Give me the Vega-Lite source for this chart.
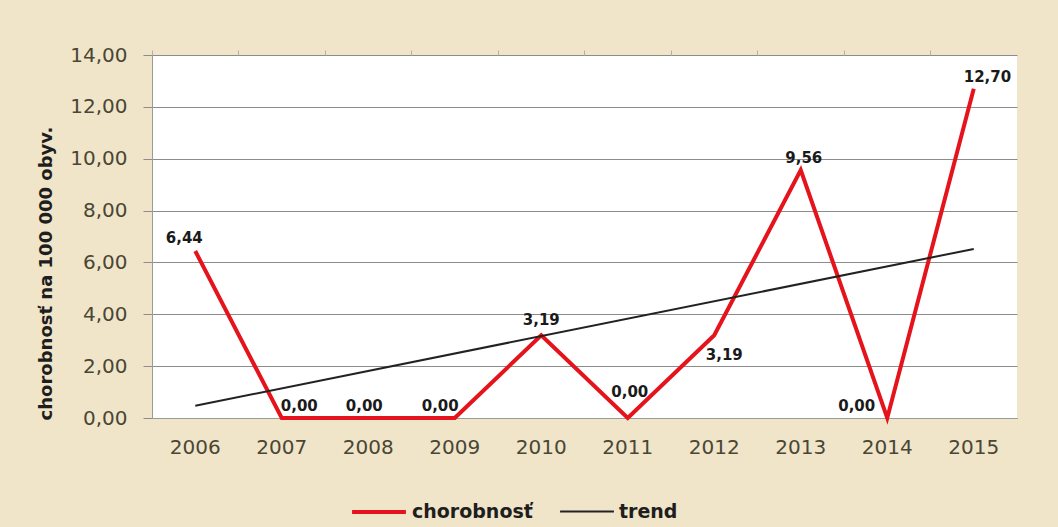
{
  "$schema": "https://vega.github.io/schema/vega-lite/v6.json",
  "width": 865,
  "height": 363,
  "autosize": {"type": "none"},
  "padding": {"left": 152, "top": 55, "right": 41, "bottom": 109},
  "background": "#F0E5C8",
  "config": {
    "locale": {"number": {"decimal": ",", "thousands": " ", "grouping": [3], "currency": ["", " €"]}},
    "view": {"fill": "white", "stroke": null},
    "font": "DejaVu Sans"
  },
  "data": {
    "values": [
      {"year": "2006", "series": "chorobnosť", "value": 6.44},
      {"year": "2007", "series": "chorobnosť", "value": 0.0},
      {"year": "2008", "series": "chorobnosť", "value": 0.0},
      {"year": "2009", "series": "chorobnosť", "value": 0.0},
      {"year": "2010", "series": "chorobnosť", "value": 3.19},
      {"year": "2011", "series": "chorobnosť", "value": 0.0},
      {"year": "2012", "series": "chorobnosť", "value": 3.19},
      {"year": "2013", "series": "chorobnosť", "value": 9.56},
      {"year": "2014", "series": "chorobnosť", "value": 0.0},
      {"year": "2015", "series": "chorobnosť", "value": 12.7},
      {"year": "2006", "series": "trend", "value": 0.47},
      {"year": "2015", "series": "trend", "value": 6.52}
    ]
  },
  "layer": [
    {
      "mark": {"type": "line", "strokeJoin": "miter"},
      "encoding": {
        "x": {
          "field": "year", "type": "ordinal",
          "scale": {"type": "band", "paddingInner": 0, "paddingOuter": 0},
          "axis": {"title": null, "labelAngle": 0, "ticks": false, "labelPadding": 19, "labelFontSize": 20, "labelColor": "#4a4636", "domainColor": "#9a9a9a", "domainWidth": 1, "grid": false}
        },
        "y": {
          "field": "value", "type": "quantitative",
          "scale": {"domain": [0, 14]},
          "axis": {
            "title": "chorobnosť na 100 000 obyv.", "titleFontSize": 18, "titleFontWeight": "bold", "titleColor": "#1e1e1e", "titlePadding": 14, "titleY": 218,
            "values": [0, 2, 4, 6, 8, 10, 12, 14], "format": ".2f",
            "labelFontSize": 20, "labelColor": "#4a4636", "labelPadding": 16,
            "tickSize": 9, "tickColor": "#8c8c8c", "domainColor": "#9a9a9a",
            "grid": true, "gridColor": "#8c8c8c", "gridWidth": 1
          }
        },
        "color": {
          "field": "series", "type": "nominal",
          "scale": {"domain": ["chorobnosť", "trend"], "range": ["#E5131B", "#222222"]},
          "legend": {"title": null, "orient": "none", "legendX": 198, "legendY": 428, "direction": "horizontal", "symbolType": "stroke", "symbolSize": 2900, "labelFontSize": 19, "labelFontWeight": "bold", "labelColor": "#1e1e1e", "columnPadding": 23, "labelOffset": 4}
        },
        "strokeWidth": {
          "field": "series", "type": "nominal",
          "scale": {"domain": ["chorobnosť", "trend"], "range": [4, 2]},
          "legend": {"title": null, "orient": "none", "legendX": 198, "legendY": 428, "direction": "horizontal", "symbolType": "stroke", "symbolSize": 2900, "labelFontSize": 19, "labelFontWeight": "bold", "labelColor": "#1e1e1e", "columnPadding": 23, "labelOffset": 4}
        }
      }
    },
    {
      "transform": [{"filter": {"field": "year", "oneOf": ["2010"]}}, {"filter": "datum.series === 'chorobnosť'"}],
      "mark": {"type": "text", "fontSize": 15, "fontWeight": "bold", "color": "#1a1a1a", "baseline": "bottom", "dy": -7},
      "encoding": {
        "x": {"field": "year", "type": "ordinal", "axis": {"bandPosition": 0, "labels": false, "ticks": true, "tickSize": 5, "tickColor": "#b0b0b0", "domain": false, "grid": false, "title": null}},
        "y": {"field": "value", "type": "quantitative"},
        "text": {"field": "value", "type": "quantitative", "format": ".2f"}
      }
    },
    {
      "transform": [{"filter": {"field": "year", "oneOf": ["2006"]}}, {"filter": "datum.series === 'chorobnosť'"}],
      "mark": {"type": "text", "fontSize": 15, "fontWeight": "bold", "color": "#1a1a1a", "baseline": "bottom", "dx": -11, "dy": -5},
      "encoding": {
        "x": {"field": "year", "type": "ordinal", "axis": null},
        "y": {"field": "value", "type": "quantitative"},
        "text": {"field": "value", "type": "quantitative", "format": ".2f"}
      }
    },
    {
      "transform": [{"filter": {"field": "year", "oneOf": ["2011"]}}, {"filter": "datum.series === 'chorobnosť'"}],
      "mark": {"type": "text", "fontSize": 15, "fontWeight": "bold", "color": "#1a1a1a", "baseline": "bottom", "dx": 2, "dy": -18},
      "encoding": {
        "x": {"field": "year", "type": "ordinal", "axis": null},
        "y": {"field": "value", "type": "quantitative"},
        "text": {"field": "value", "type": "quantitative", "format": ".2f"}
      }
    },
    {
      "transform": [{"filter": {"field": "year", "oneOf": ["2013"]}}, {"filter": "datum.series === 'chorobnosť'"}],
      "mark": {"type": "text", "fontSize": 15, "fontWeight": "bold", "color": "#1a1a1a", "baseline": "bottom", "dx": 3, "dy": -4},
      "encoding": {
        "x": {"field": "year", "type": "ordinal", "axis": null},
        "y": {"field": "value", "type": "quantitative"},
        "text": {"field": "value", "type": "quantitative", "format": ".2f"}
      }
    },
    {
      "transform": [{"filter": {"field": "year", "oneOf": ["2007"]}}, {"filter": "datum.series === 'chorobnosť'"}],
      "mark": {"type": "text", "fontSize": 15, "fontWeight": "bold", "color": "#1a1a1a", "baseline": "bottom", "align": "left", "dx": -1, "dy": -4},
      "encoding": {
        "x": {"field": "year", "type": "ordinal", "axis": null},
        "y": {"field": "value", "type": "quantitative"},
        "text": {"field": "value", "type": "quantitative", "format": ".2f"}
      }
    },
    {
      "transform": [{"filter": {"field": "year", "oneOf": ["2008"]}}, {"filter": "datum.series === 'chorobnosť'"}],
      "mark": {"type": "text", "fontSize": 15, "fontWeight": "bold", "color": "#1a1a1a", "baseline": "bottom", "dx": -4, "dy": -4},
      "encoding": {
        "x": {"field": "year", "type": "ordinal", "axis": null},
        "y": {"field": "value", "type": "quantitative"},
        "text": {"field": "value", "type": "quantitative", "format": ".2f"}
      }
    },
    {
      "transform": [{"filter": {"field": "year", "oneOf": ["2009"]}}, {"filter": "datum.series === 'chorobnosť'"}],
      "mark": {"type": "text", "fontSize": 15, "fontWeight": "bold", "color": "#1a1a1a", "baseline": "bottom", "align": "right", "dx": 4, "dy": -4},
      "encoding": {
        "x": {"field": "year", "type": "ordinal", "axis": null},
        "y": {"field": "value", "type": "quantitative"},
        "text": {"field": "value", "type": "quantitative", "format": ".2f"}
      }
    },
    {
      "transform": [{"filter": {"field": "year", "oneOf": ["2014"]}}, {"filter": "datum.series === 'chorobnosť'"}],
      "mark": {"type": "text", "fontSize": 15, "fontWeight": "bold", "color": "#1a1a1a", "baseline": "bottom", "align": "right", "dx": -12, "dy": -4},
      "encoding": {
        "x": {"field": "year", "type": "ordinal", "axis": null},
        "y": {"field": "value", "type": "quantitative"},
        "text": {"field": "value", "type": "quantitative", "format": ".2f"}
      }
    },
    {
      "transform": [{"filter": {"field": "year", "oneOf": ["2012"]}}, {"filter": "datum.series === 'chorobnosť'"}],
      "mark": {"type": "text", "fontSize": 15, "fontWeight": "bold", "color": "#1a1a1a", "baseline": "top", "dx": 10, "dy": 13},
      "encoding": {
        "x": {"field": "year", "type": "ordinal", "axis": null},
        "y": {"field": "value", "type": "quantitative"},
        "text": {"field": "value", "type": "quantitative", "format": ".2f"}
      }
    },
    {
      "transform": [{"filter": {"field": "year", "oneOf": ["2015"]}}, {"filter": "datum.series === 'chorobnosť'"}],
      "mark": {"type": "text", "fontSize": 15, "fontWeight": "bold", "color": "#1a1a1a", "baseline": "bottom", "align": "left", "dx": -10, "dy": -4},
      "encoding": {
        "x": {"field": "year", "type": "ordinal", "axis": null},
        "y": {"field": "value", "type": "quantitative"},
        "text": {"field": "value", "type": "quantitative", "format": ".2f"}
      }
    }
  ],
  "resolve": {"axis": {"x": "independent"}}
}
